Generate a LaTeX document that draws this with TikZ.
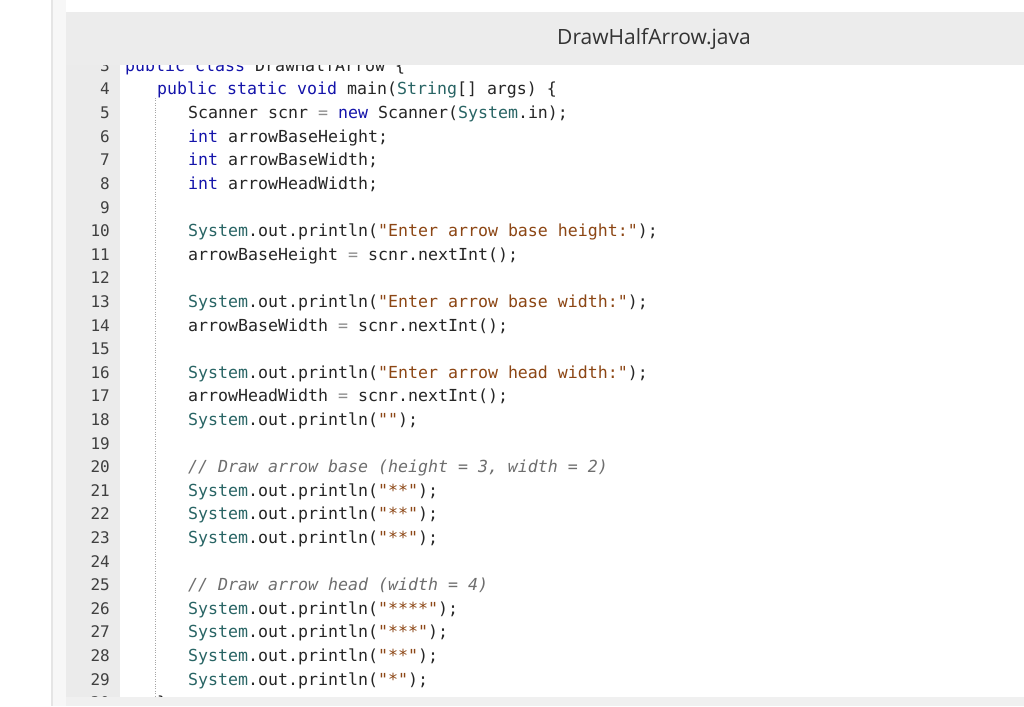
\documentclass[tikz,border=0pt]{standalone}
\usepackage{fontspec}
\newfontfamily\mono{DejaVu Sans Mono}
\newfontfamily\titlefont{Open Sans}
\definecolor{kwc}{RGB}{20,20,170}
\definecolor{clc}{RGB}{40,100,100}
\definecolor{stc}{RGB}{140,70,20}
\definecolor{cmc}{RGB}{110,110,110}
\definecolor{opc}{RGB}{140,140,140}
\definecolor{gut}{RGB}{235,235,235}
\definecolor{hdr}{RGB}{236,236,236}
\newcommand\kw[1]{\textcolor{kwc}{#1}}
\newcommand\cl[1]{\textcolor{clc}{#1}}
\newcommand\st[1]{\textcolor{stc}{#1}}
\newcommand\cm[1]{\textcolor{cmc}{\itshape #1}}
\newcommand\op[1]{\textcolor{opc}{#1}}
\tikzset{code/.style={anchor=base west,inner sep=0,font=\mono\fontsize{16.6}{16}\selectfont,text=black!85},
 lnum/.style={anchor=base east,inner sep=0,font=\mono\fontsize{16}{16}\selectfont,text=black!75}}
\begin{document}
\begin{tikzpicture}[x=1pt,y=-1pt]
\useasboundingbox[fill=white] (0,0) rectangle (1024,706);
\draw[black!10,line width=1.5] (52,0) -- (52,706);
\fill[black!3] (53,0) rectangle (66,706);
\begin{scope}
\clip (66,65) rectangle (1024,697);
\fill[gut] (66,65) rectangle (120,697);
\draw[black!35,dotted] (155,98) -- (155,697);
\def\L#1#2{\node[lnum] (n#1) at (110,{89+23.6*(#1-4)+6}) {#1};\node[code] (c#1) at (125,{89+23.6*(#1-4)+6}) {#2};}
\L{3}{\kw{public class} DrawHalfArrow \{}
\L{4}{\hspace{32pt}\kw{public static void} main(\cl{String}[] args) \{}
\newcommand\ind{\hspace{63pt}}
\L{5}{\ind Scanner scnr \op{=} \kw{new} Scanner(\cl{System}.in);}
\L{6}{\ind\kw{int} arrowBaseHeight;}
\L{7}{\ind\kw{int} arrowBaseWidth;}
\L{8}{\ind\kw{int} arrowHeadWidth;}
\L{9}{}
\L{10}{\ind\cl{System}.out.println(\st{"Enter arrow base height:"});}
\L{11}{\ind arrowBaseHeight \op{=} scnr.nextInt();}
\L{12}{}
\L{13}{\ind\cl{System}.out.println(\st{"Enter arrow base width:"});}
\L{14}{\ind arrowBaseWidth \op{=} scnr.nextInt();}
\L{15}{}
\L{16}{\ind\cl{System}.out.println(\st{"Enter arrow head width:"});}
\L{17}{\ind arrowHeadWidth \op{=} scnr.nextInt();}
\L{18}{\ind\cl{System}.out.println(\st{""});}
\L{19}{}
\L{20}{\ind\cm{// Draw arrow base (height = 3, width = 2)}}
\L{21}{\ind\cl{System}.out.println(\st{"**"});}
\L{22}{\ind\cl{System}.out.println(\st{"**"});}
\L{23}{\ind\cl{System}.out.println(\st{"**"});}
\L{24}{}
\L{25}{\ind\cm{// Draw arrow head (width = 4)}}
\L{26}{\ind\cl{System}.out.println(\st{"****"});}
\L{27}{\ind\cl{System}.out.println(\st{"***"});}
\L{28}{\ind\cl{System}.out.println(\st{"**"});}
\L{29}{\ind\cl{System}.out.println(\st{"*"});}
\L{30}{\hspace{32pt}\}}
\end{scope}
\fill[hdr] (66,12) rectangle (1024,65);
\node[font=\titlefont\fontsize{21}{21}\selectfont,text=black!80] (title) at (654,39) {DrawHalfArrow.java};
\fill[black!6] (66,697) rectangle (1024,706);
\end{tikzpicture}
\end{document}
